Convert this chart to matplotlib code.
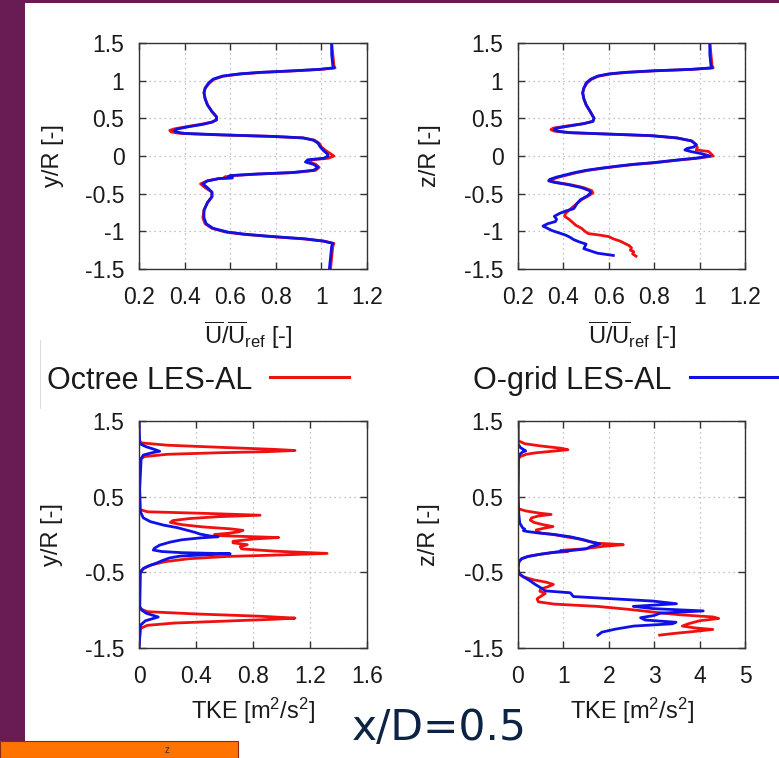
import matplotlib
matplotlib.use("Agg")
import matplotlib.pyplot as plt
from matplotlib.patches import Rectangle
from matplotlib.lines import Line2D

plt.rcParams['font.family'] = ['Liberation Sans', 'DejaVu Sans']
plt.rcParams['mathtext.fontset'] = 'custom'
plt.rcParams['mathtext.rm'] = 'Liberation Sans'
plt.rcParams['mathtext.it'] = 'Liberation Sans:italic'
plt.rcParams['axes.unicode_minus'] = False

W, H = 779, 758

# ---- top left: mean velocity, y/R ----
tl_y_oct = [1.50, 1.35, 1.20, 1.17, 1.15, 1.13, 1.11, 1.09, 1.06, 1.02, 0.97, 0.90, 0.84, 0.76,
            0.68, 0.59, 0.52, 0.48, 0.45, 0.42, 0.39, 0.36, 0.34, 0.32, 0.30, 0.28, 0.26, 0.24,
            0.21, 0.17, 0.12, 0.07, 0.03, 0.00, -0.03, -0.05, -0.08, -0.11, -0.15, -0.19, -0.22,
            -0.24, -0.26, -0.28, -0.29, -0.30, -0.33, -0.37, -0.42, -0.48, -0.54, -0.62, -0.72,
            -0.82, -0.90, -0.96, -1.01, -1.04, -1.07, -1.10, -1.13, -1.16, -1.20, -1.35, -1.50]
tl_u_oct = [1.045, 1.05, 1.055, 1.06, 1.00, 0.88, 0.74, 0.65, 0.57, 0.53, 0.51, 0.49, 0.485, 0.49,
            0.50, 0.52, 0.54, 0.54, 0.52, 0.47, 0.41, 0.355, 0.335, 0.34, 0.38, 0.55, 0.78, 0.92,
            0.97, 0.99, 1.00, 1.02, 1.04, 1.055, 1.03, 0.96, 0.945, 0.975, 0.99, 0.975, 0.88,
            0.72, 0.61, 0.575, 0.60, 0.55, 0.50, 0.47, 0.49, 0.52, 0.52, 0.50, 0.485,
            0.48, 0.49, 0.52, 0.58, 0.66, 0.78, 0.92, 1.01, 1.055, 1.05, 1.045, 1.04]
tl_y_og = tl_y_oct
tl_u_og = [1.045, 1.045, 1.05, 1.055, 0.99, 0.87, 0.73, 0.64, 0.565, 0.525, 0.505, 0.49, 0.485, 0.49,
           0.50, 0.52, 0.54, 0.54, 0.52, 0.48, 0.42, 0.37, 0.355, 0.36, 0.40, 0.57, 0.79, 0.92,
           0.965, 0.985, 0.995, 1.01, 1.025, 1.03, 1.01, 0.94, 0.93, 0.965, 0.985, 0.965, 0.87,
           0.71, 0.60, 0.59, 0.61, 0.55, 0.50, 0.48, 0.50, 0.52, 0.52, 0.50, 0.485,
           0.485, 0.495, 0.525, 0.59, 0.67, 0.79, 0.93, 1.01, 1.05, 1.045, 1.04, 1.035]

# ---- top right: mean velocity, z/R ----
tr_y_oct = [1.50, 1.35, 1.20, 1.17, 1.15, 1.13, 1.11, 1.09, 1.06, 1.02, 0.97, 0.90, 0.84, 0.76,
            0.68, 0.58, 0.50, 0.46, 0.43, 0.40, 0.37, 0.35, 0.33, 0.31, 0.29, 0.27, 0.24, 0.20,
            0.15, 0.11, 0.08, 0.06, 0.03, 0.00, -0.03, -0.05, -0.07, -0.09, -0.11, -0.13, -0.16,
            -0.19, -0.22, -0.25, -0.28, -0.31, -0.33, -0.35, -0.38, -0.42, -0.46, -0.49, -0.53,
            -0.58, -0.63, -0.68, -0.72, -0.76, -0.80, -0.84, -0.88, -0.92, -0.96, -1.00, -1.03,
            -1.05, -1.07, -1.10, -1.13, -1.16, -1.19, -1.22, -1.25, -1.27, -1.30, -1.33]
tr_u_oct = [1.045, 1.05, 1.055, 1.06, 0.97, 0.80, 0.68, 0.61, 0.555, 0.525, 0.505, 0.49, 0.485, 0.49,
            0.50, 0.52, 0.535, 0.53, 0.49, 0.42, 0.355, 0.345, 0.36, 0.42, 0.60, 0.78, 0.90, 0.965,
            0.985, 0.99, 0.985, 1.04, 1.05, 1.06, 0.99, 0.92, 0.86, 0.80, 0.72, 0.66, 0.58,
            0.51, 0.46, 0.42, 0.38, 0.35, 0.34, 0.37, 0.43, 0.49, 0.525, 0.53, 0.51,
            0.48, 0.46, 0.44, 0.425, 0.41, 0.405, 0.425, 0.44, 0.455, 0.48, 0.495, 0.51,
            0.56, 0.60, 0.62, 0.65, 0.67, 0.69, 0.70, 0.695, 0.71, 0.705, 0.72]
tr_y_og = [1.50, 1.35, 1.20, 1.17, 1.15, 1.13, 1.11, 1.09, 1.06, 1.02, 0.97, 0.90, 0.84, 0.76,
           0.68, 0.58, 0.50, 0.46, 0.43, 0.40, 0.37, 0.35, 0.33, 0.31, 0.29, 0.27, 0.24, 0.20,
           0.15, 0.12, 0.10, 0.08, 0.06, 0.03, 0.00, -0.03, -0.05, -0.07, -0.09, -0.11, -0.13,
           -0.16, -0.19, -0.22, -0.25, -0.28, -0.31, -0.33, -0.35, -0.38, -0.42, -0.46, -0.49,
           -0.53, -0.58, -0.63, -0.68, -0.70, -0.73, -0.76, -0.80, -0.84, -0.87, -0.90, -0.93,
           -0.96, -0.99, -1.02, -1.05, -1.08, -1.11, -1.14, -1.17, -1.20, -1.23, -1.26, -1.29, -1.32]
tr_u_og = [1.045, 1.045, 1.05, 1.055, 0.96, 0.79, 0.67, 0.60, 0.55, 0.52, 0.50, 0.49, 0.485, 0.49,
           0.50, 0.52, 0.535, 0.53, 0.49, 0.43, 0.37, 0.36, 0.375, 0.43, 0.61, 0.79, 0.90, 0.965,
           0.985, 0.975, 0.945, 0.935, 0.96, 1.01, 1.045, 0.98, 0.91, 0.85, 0.79, 0.71, 0.65,
           0.57, 0.50, 0.45, 0.41, 0.37, 0.34, 0.335, 0.36, 0.42, 0.48, 0.515, 0.52,
           0.505, 0.475, 0.46, 0.45, 0.445, 0.41, 0.385, 0.36, 0.37, 0.365, 0.33, 0.31,
           0.33, 0.35, 0.38, 0.41, 0.43, 0.445, 0.47, 0.50, 0.495, 0.49, 0.52, 0.55, 0.62]

# ---- bottom left: TKE, y/R ----
bl_y_oct = [1.50, 1.24, 1.21, 1.18, 1.15, 1.125, 1.11, 1.095, 1.08, 1.06, 1.03, 1.00, 0.60, 0.33,
            0.30, 0.28, 0.255, 0.235, 0.21, 0.185, 0.16, 0.13, 0.10, 0.075, 0.055, 0.035, 0.015,
            0.00, -0.015, -0.04, -0.06, -0.09, -0.11, -0.135, -0.16, -0.19, -0.22, -0.25, -0.27,
            -0.29, -0.32, -0.36, -0.40, -0.45, -0.50, -0.98, -1.02, -1.05, -1.08, -1.105, -1.12,
            -1.145, -1.17, -1.20, -1.24, -1.50]
bl_k_oct = [0.0, 0.0, 0.02, 0.20, 0.60, 0.95, 1.095, 0.90, 0.55, 0.20, 0.04, 0.01, 0.0, 0.005,
            0.06, 0.45, 0.85, 0.55, 0.35, 0.24, 0.22, 0.30, 0.45, 0.64, 0.73, 0.70, 0.62,
            0.53, 0.56, 0.98, 0.80, 0.66, 0.66, 0.76, 0.71, 0.72, 0.95, 1.32, 1.00,
            0.62, 0.35, 0.18, 0.09, 0.03, 0.005, 0.005, 0.06, 0.40, 0.85, 1.095, 0.95,
            0.60, 0.25, 0.06, 0.01, 0.0]
bl_y_og = [1.50, 1.20, 1.16, 1.13, 1.10, 1.08, 1.05, 1.00, 0.60, 0.30, 0.22, 0.17, 0.125, 0.09,
           0.06, 0.03, 0.005, -0.02, -0.03, -0.045, -0.07, -0.10, -0.14, -0.18, -0.205, -0.225,
           -0.24, -0.255, -0.27, -0.285, -0.31, -0.34, -0.38, -0.42, -0.45, -0.50, -0.95, -1.00,
           -1.04, -1.07, -1.09, -1.11, -1.14, -1.20, -1.50]
bl_k_og = [0.0, 0.005, 0.05, 0.10, 0.145, 0.09, 0.03, 0.015, 0.005, 0.01, 0.03, 0.08, 0.17, 0.27,
           0.33, 0.39, 0.43, 0.50, 0.555, 0.43, 0.30, 0.22, 0.145, 0.11, 0.10, 0.16,
           0.30, 0.64, 0.45, 0.29, 0.215, 0.17, 0.12, 0.06, 0.03, 0.01, 0.005, 0.02,
           0.05, 0.10, 0.135, 0.10, 0.045, 0.01, 0.0]

# ---- bottom right: TKE, z/R ----
br_y_oct = [1.50, 1.24, 1.20, 1.17, 1.14, 1.12, 1.10, 1.08, 1.06, 1.03, 1.00, 0.60, 0.34, 0.31,
            0.28, 0.265, 0.245, 0.22, 0.19, 0.16, 0.13, 0.105, 0.08, 0.06, 0.04, 0.02, 0.00,
            -0.03, -0.06, -0.09, -0.115, -0.135, -0.155, -0.17, -0.19, -0.205, -0.215, -0.225,
            -0.24, -0.265, -0.29, -0.32, -0.36, -0.45, -0.52, -0.56, -0.60, -0.63, -0.66, -0.69,
            -0.72, -0.75, -0.78, -0.81, -0.85, -0.89, -0.92, -0.95, -0.99, -1.03, -1.06, -1.09,
            -1.11, -1.14, -1.18, -1.21, -1.235, -1.255, -1.28, -1.31, -1.33]
br_k_oct = [0.0, 0.0, 0.15, 0.50, 0.95, 1.10, 0.75, 0.40, 0.18, 0.05, 0.01, 0.0, 0.01, 0.18,
            0.50, 0.73, 0.45, 0.30, 0.27, 0.35, 0.55, 0.77, 0.55, 0.40, 0.42, 0.50, 0.78,
            1.05, 1.35, 1.55, 1.75, 2.32, 1.90, 1.70, 1.45, 1.05, 0.93, 1.10,
            0.75, 0.45, 0.22, 0.08, 0.02, 0.0, 0.02, 0.12, 0.35, 0.62, 0.78, 0.66,
            0.50, 0.48, 0.60, 0.52, 0.42, 0.45, 0.80, 1.75, 2.45, 3.05, 3.55, 4.30,
            4.42, 4.00, 3.75, 3.62, 3.90, 4.29, 3.90, 3.40, 3.12]
br_y_og = [1.50, 1.20, 1.15, 1.12, 1.105, 1.09, 1.06, 1.02, 0.50, 0.25, 0.15, 0.09, 0.07, 0.05,
           0.04, 0.02, 0.00, -0.03, -0.07, -0.10, -0.125, -0.14, -0.16, -0.19, -0.21, -0.23,
           -0.26, -0.29, -0.32, -0.36, -0.45, -0.52, -0.56, -0.61, -0.66, -0.71, -0.745, -0.77,
           -0.82, -0.85, -0.88, -0.915, -0.95, -0.98, -1.01, -1.04, -1.07, -1.10, -1.13, -1.16,
           -1.18, -1.21, -1.25, -1.29, -1.33]
br_k_og = [0.0, 0.0, 0.05, 0.13, 0.17, 0.10, 0.04, 0.01, 0.0, 0.02, 0.04, 0.10, 0.15, 0.12,
           0.20, 0.45, 0.80, 1.15, 1.45, 1.62, 1.80, 1.72, 1.60, 1.50, 1.20, 0.85,
           0.50, 0.22, 0.08, 0.02, 0.0, 0.03, 0.12, 0.26, 0.38, 0.52, 0.60, 1.15,
           1.22, 2.10, 2.98, 3.49, 2.54, 2.98, 4.08, 3.13, 3.00, 2.70, 2.80, 3.48,
           3.40, 2.55, 2.15, 1.85, 1.76]

uticks = [0.2, 0.4, 0.6, 0.8, 1.0, 1.2]
ulabels = ['0.2', '0.4', '0.6', '0.8', '1', '1.2']
yticks_u = [-1.5, -1, -0.5, 0, 0.5, 1, 1.5]
ylabels_u = ['-1.5', '-1', '-0.5', '0', '0.5', '1', '1.5']
kticks_l = [0, 0.4, 0.8, 1.2, 1.6]
klabels_l = ['0', '0.4', '0.8', '1.2', '1.6']
kticks_r = [0, 1, 2, 3, 4, 5]
klabels_r = ['0', '1', '2', '3', '4', '5']
yticks_k = [-1.5, -0.5, 0.5, 1.5]
ylabels_k = ['-1.5', '-0.5', '0.5', '1.5']

RED = '#f01010'
BLUE = '#1010e8'

fig = plt.figure(figsize=(W / 100, H / 100), dpi=100)
fig.patch.set_facecolor('white')


def fx(x):
    return x / W


def fy(y):
    return 1 - y / H


def make_ax(x0, x1, y0, y1, xlim, xt, xl, yt, yl):
    ax = fig.add_axes([fx(x0), fy(y1), fx(x1) - fx(x0), (y1 - y0) / H])
    ax.set_xlim(xlim)
    ax.set_ylim(-1.5, 1.5)
    ax.set_xticks(xt)
    ax.set_xticklabels(xl)
    ax.set_yticks(yt)
    ax.set_yticklabels(yl)
    ax.tick_params(direction='in', top=True, right=True, length=5, width=1,
                   color='#333333', labelsize=16.5, labelcolor='#1a1a1a')
    ax.tick_params(axis='x', pad=12)
    ax.tick_params(axis='y', pad=10.5)
    ax.grid(True, color='#b0b0b0', linestyle=(0, (1, 3)), linewidth=0.9)
    for s in ax.spines.values():
        s.set_color('#333333')
        s.set_linewidth(1.0)
    return ax


ax1 = make_ax(139, 367, 43, 269, (0.2, 1.2), uticks, ulabels, yticks_u, ylabels_u)
ax1.plot(tl_u_oct, tl_y_oct, color=RED, lw=2.0)
ax1.plot(tl_u_og, tl_y_og, color=BLUE, lw=2.0)

ax2 = make_ax(518, 745, 43, 269, (0.2, 1.2), uticks, ulabels, yticks_u, ylabels_u)
ax2.plot(tr_u_oct, tr_y_oct, color=RED, lw=2.0)
ax2.plot(tr_u_og, tr_y_og, color=BLUE, lw=2.0)

ax3 = make_ax(139, 367, 421, 648, (0, 1.6), kticks_l, klabels_l, yticks_k, ylabels_k)
ax3.plot(bl_k_oct, bl_y_oct, color=RED, lw=2.0)
ax3.plot(bl_k_og, bl_y_og, color=BLUE, lw=2.0)

ax4 = make_ax(518, 745, 421, 648, (0, 5), kticks_r, klabels_r, yticks_k, ylabels_k)
ax4.plot(br_k_oct, br_y_oct, color=RED, lw=2.0)
ax4.plot(br_k_og, br_y_og, color=BLUE, lw=2.0)

# axis labels
lab = dict(fontsize=17, color='#1a1a1a')
fig.text(fx(53), fy(156), 'y/R [-]', rotation=90, ha='center', va='center', **lab)
fig.text(fx(430), fy(156), 'z/R [-]', rotation=90, ha='center', va='center', **lab)
fig.text(fx(52), fy(535), 'y/R [-]', rotation=90, ha='center', va='center', **lab)
fig.text(fx(429), fy(535), 'z/R [-]', rotation=90, ha='center', va='center', **lab)
ulab = r'$\overline{\mathrm{U}}/\overline{\mathrm{U}}_{\mathrm{ref}}$ [-]'
fig.text(fx(248), fy(344), ulab, ha='center', va='baseline', **lab)
fig.text(fx(632), fy(344), ulab, ha='center', va='baseline', **lab)
klab = r'TKE [m$^2$/s$^2$]'
fig.text(fx(253), fy(719), klab, ha='center', va='baseline', **lab)
fig.text(fx(632), fy(719), klab, ha='center', va='baseline', **lab)

# legend row
fig.text(fx(47), fy(389), 'Octree LES-AL', fontsize=22, color='#1a1a1a', va='baseline')
fig.text(fx(473), fy(389), 'O-grid LES-AL', fontsize=22, color='#1a1a1a', va='baseline')
fig.add_artist(Line2D([fx(270), fx(349)], [fy(377), fy(377)], color=RED, lw=2.2))
fig.add_artist(Line2D([fx(690), fx(779)], [fy(377), fy(377)], color=BLUE, lw=2.2))
fig.add_artist(Line2D([fx(40), fx(40)], [fy(340), fy(408)], color='#dddddd', lw=0.8))

# slide decorations
fig.text(fx(352), fy(740), 'x/D=0.5', fontsize=30.5, color='#0c2344', va='baseline',
         family='DejaVu Sans')
fig.add_artist(Rectangle((0, fy(741)), fx(25), fy(0) - fy(741), transform=fig.transFigure,
                         facecolor='#691b54', edgecolor='none'))
fig.add_artist(Rectangle((0, fy(3)), 1, fy(0) - fy(3), transform=fig.transFigure,
                         facecolor='#691b54', edgecolor='none'))
fig.add_artist(Rectangle((0, 0), fx(238), fy(741), transform=fig.transFigure,
                         facecolor='#ff7300', edgecolor='#8a2a10', lw=0.8))
fig.text(fx(167), fy(750), 'z', fontsize=7, color='#333333', ha='center', va='center')

fig.savefig('out.png', dpi=100)
